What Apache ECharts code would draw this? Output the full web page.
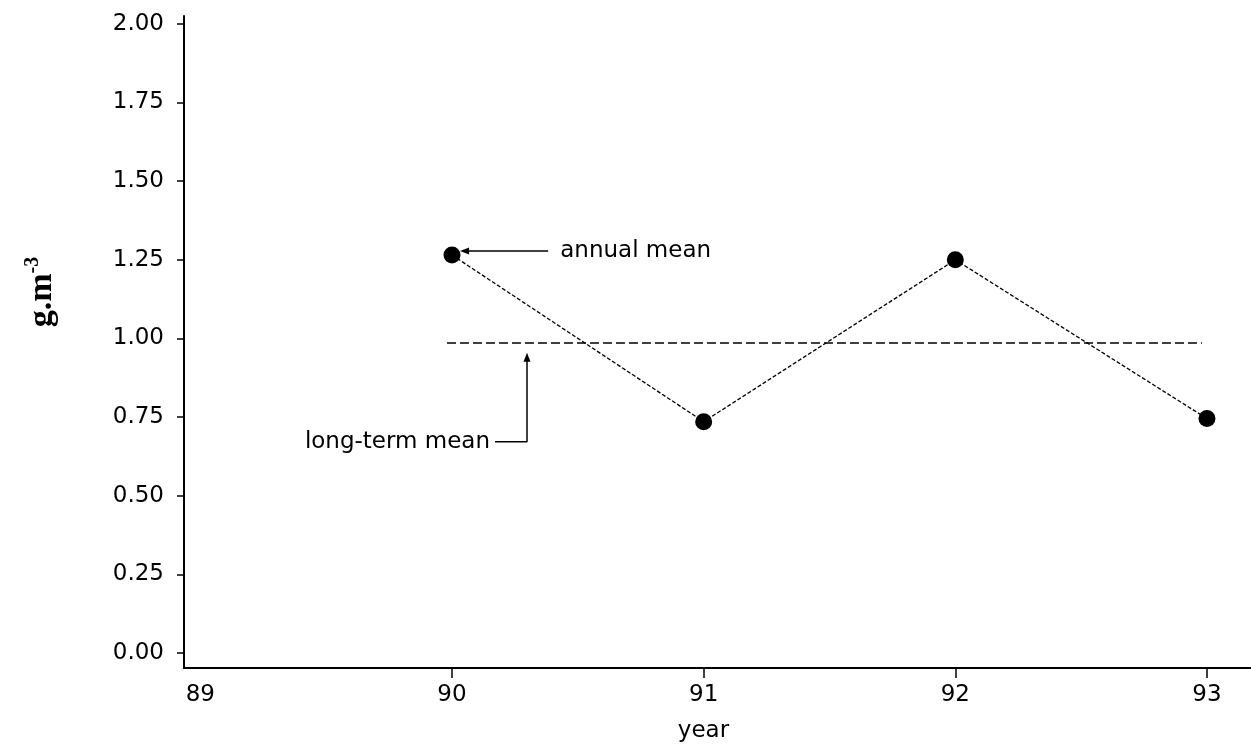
<!DOCTYPE html>
<html>
<head>
<meta charset="utf-8">
<script src="https://cdn.jsdelivr.net/npm/echarts@6/dist/echarts.min.js"></script>
<style>
html,body{margin:0;padding:0;background:#fff;}
#chart{width:1251px;height:744px;}
</style>
</head>
<body>
<div id="chart"></div>
<script>
// ---- data ----
const years = [90, 91, 92, 93];
const annualMean = [1.265, 0.735, 1.25, 0.745];
const longTermMean = 0.985;
const meanLineRange = [89.98, 92.98];
const xTickValues = [90, 91, 92, 93];
const xLabelValues = [89, 90, 91, 92, 93];
const yTickValues = [0, 0.25, 0.5, 0.75, 1.0, 1.25, 1.5, 1.75, 2.0];
// annotation arrows (data coordinates)
const annualArrow = [[90.382, 1.278], [90.05, 1.278]];
const longTermArrow = [[90.171, 0.671], [90.298, 0.671], [90.298, 0.94]];
const annotationTexts = ['annual mean', 'long-term mean'];
const annotationAnchors = [[90.43, 1.278], [90.151, 0.671]];

const chart = echarts.init(document.getElementById('chart'), null, {renderer: 'canvas'});
const font = 'DejaVu Sans';

const option = {
  animation: false,
  backgroundColor: '#fff',
  grid: {left: 184, right: 0, top: 16, bottom: 76, containLabel: false, outerBoundsMode: 'none'},
  xAxis: {
    type: 'value',
    min: 88.935, max: 93.175,
    name: 'year',
    nameLocation: 'middle',
    nameGap: 52,
    nameTextStyle: {fontFamily: font, fontSize: 23, color: '#000', padding: [0, 28, 0, 0]},
    axisLine: {show: true, onZero: false, lineStyle: {color: '#000', width: 2}},
    axisTick: {show: true, customValues: xTickValues, length: 10, lineStyle: {color: '#000', width: 1.5}},
    axisLabel: {customValues: xLabelValues, fontFamily: font, fontSize: 23, color: '#000', margin: 16},
    splitLine: {show: false}
  },
  yAxis: {
    type: 'value',
    min: -0.048, max: 2.025,
    axisLine: {show: true, onZero: false, lineStyle: {color: '#000', width: 2}},
    axisTick: {show: true, customValues: yTickValues, length: 7, lineStyle: {color: '#000', width: 1.5}},
    axisLabel: {customValues: yTickValues, fontFamily: font, fontSize: 23, color: '#000', margin: 20,
      formatter: v => v.toFixed(2)},
    splitLine: {show: false}
  },
  graphic: [{
    type: 'text',
    x: 42, y: 292,
    rotation: Math.PI / 2,
    style: {
      text: '{a|g.m}{b|-3}',
      align: 'center',
      verticalAlign: 'middle',
      rich: {
        a: {fontFamily: 'Liberation Serif', fontSize: 34, fontWeight: 'bold', fill: '#000', lineHeight: 38},
        b: {fontFamily: 'Liberation Serif', fontSize: 20, fontWeight: 'bold', fill: '#000', verticalAlign: 'top', lineHeight: 38}
      }
    }
  }],
  series: [
    {
      type: 'line',
      data: meanLineRange.map(x => [x, longTermMean]),
      symbol: 'none',
      lineStyle: {color: '#000', width: 1.5, type: [9, 4]},
      z: 2
    },
    {
      type: 'line',
      data: years.map((y, i) => [y, annualMean[i]]),
      symbol: 'circle',
      symbolSize: 17,
      itemStyle: {color: '#000'},
      lineStyle: {color: '#000', width: 1.3, type: [4, 2]},
      z: 3
    },
    {
      type: 'line',
      data: annualArrow.map((p, i) => i === annualArrow.length - 1
        ? {value: p, symbol: 'triangle', symbolRotate: 90, symbolSize: [7, 9]}
        : {value: p, symbol: 'none'}),
      lineStyle: {color: '#000', width: 1.5},
      itemStyle: {color: '#000'},
      z: 4
    },
    {
      type: 'line',
      data: longTermArrow.map((p, i) => i === longTermArrow.length - 1
        ? {value: p, symbol: 'triangle', symbolSize: [7, 9]}
        : {value: p, symbol: 'none'}),
      lineStyle: {color: '#000', width: 1.5},
      itemStyle: {color: '#000'},
      z: 4
    },
    {
      type: 'scatter',
      symbolSize: 0,
      itemStyle: {color: '#000', opacity: 1},
      data: annotationTexts.map((t, i) => ({
        name: t, value: annotationAnchors[i],
        label: {position: i === 0 ? 'right' : 'left', color: '#000'}
      })),
      label: {show: true, formatter: p => p.name, fontFamily: font, fontSize: 23, color: '#000', distance: 0, opacity: 1},
      z: 5
    }
  ]
};
chart.setOption(option);
</script>
</body>
</html>
